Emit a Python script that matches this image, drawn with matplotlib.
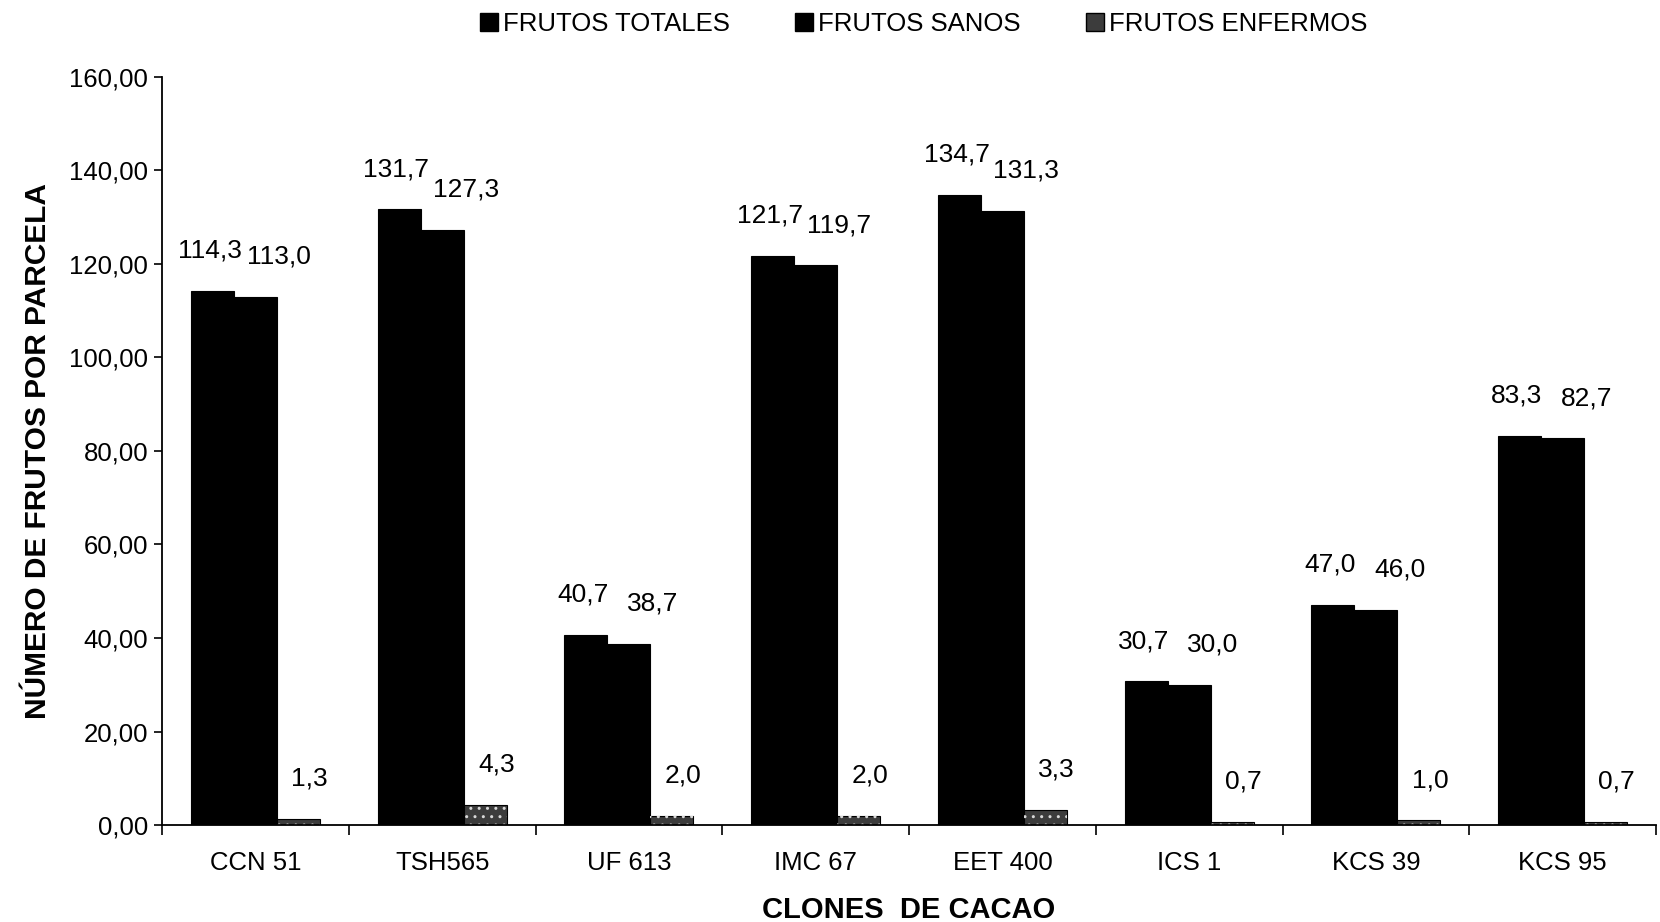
import numpy as np
import matplotlib
matplotlib.use("Agg")
import matplotlib.pyplot as plt
from matplotlib.lines import Line2D

plt.rcParams['font.family'] = ['Liberation Sans', 'DejaVu Sans']

clones = ['CCN 51', 'TSH565', 'UF 613', 'IMC 67', 'EET 400', 'ICS 1', 'KCS 39', 'KCS 95']
totales = [114.3, 131.7, 40.7, 121.7, 134.7, 30.7, 47.0, 83.3]
sanos = [113.0, 127.3, 38.7, 119.7, 131.3, 30.0, 46.0, 82.7]
enfermos = [1.3, 4.3, 2.0, 2.0, 3.3, 0.7, 1.0, 0.7]
series_names = ['FRUTOS TOTALES', 'FRUTOS SANOS', 'FRUTOS ENFERMOS']

fig = plt.figure(figsize=(16.6, 9.22), dpi=100)
ax = fig.add_axes([0.0976, 0.1052, 0.9, 0.8113])

x = np.arange(len(clones))
w = 0.23

ax.bar(x - w, totales, w, color='black', edgecolor='black', linewidth=0.8)
ax.bar(x, sanos, w, color='black', edgecolor='black', linewidth=0.8)
ax.bar(x + w, enfermos, w, color='#3c3c3c', edgecolor='black', linewidth=0.8)
# speckled fill for the diseased fruit bars
ax.bar(x + w, enfermos, w, color='none', edgecolor='#d8d8d8', linewidth=0, hatch='..')

def fmt(v):
    return f"{v:.1f}".replace('.', ',')

for xi, vals, dx in [(x - w, totales, -2), (x, sanos, 17), (x + w, enfermos, 8)]:
    for xx, v in zip(xi, vals):
        ax.annotate(fmt(v), (xx, v), xytext=(dx, 29), textcoords='offset points',
                    ha='center', va='center', fontsize=19)

ax.set_ylim(0, 160)
ax.set_xlim(-0.5, len(clones) - 0.5)
ax.set_yticks(np.arange(0, 161, 20))
ax.set_yticklabels([f"{v:.2f}".replace('.', ',') for v in np.arange(0, 161, 20)], fontsize=18.5)
ax.set_xticks(x)
ax.set_xticklabels(clones, fontsize=18.5)
ax.set_xticks(np.arange(-0.5, len(clones)), minor=True)
ax.tick_params(axis='x', which='major', length=0, pad=19)
ax.tick_params(axis='x', which='minor', length=7, width=1.2, direction='out')
ax.tick_params(axis='y', length=6, width=1.2, direction='out', pad=4)

for s in ['top', 'right']:
    ax.spines[s].set_visible(False)
for s in ['left', 'bottom']:
    ax.spines[s].set_linewidth(1.3)

ax.set_ylabel('NÚMERO DE FRUTOS POR PARCELA', fontsize=21.5, fontweight='bold', labelpad=12)
ax.set_xlabel('CLONES  DE CACAO', fontsize=21, fontweight='bold', labelpad=15)

handles = [
    Line2D([], [], marker='s', linestyle='none', markersize=13, markerfacecolor='black', markeredgecolor='black'),
    Line2D([], [], marker='s', linestyle='none', markersize=13, markerfacecolor='black', markeredgecolor='black'),
    Line2D([], [], marker='s', linestyle='none', markersize=13, markerfacecolor='#3c3c3c', markeredgecolor='black'),
]
fig.legend(handles, series_names, loc='upper center', bbox_to_anchor=(0.556, 1.012), ncol=3,
           frameon=False, fontsize=18.5, handletextpad=0.15, columnspacing=2.5, handlelength=0.8)

fig.savefig('out.png', dpi=100)
